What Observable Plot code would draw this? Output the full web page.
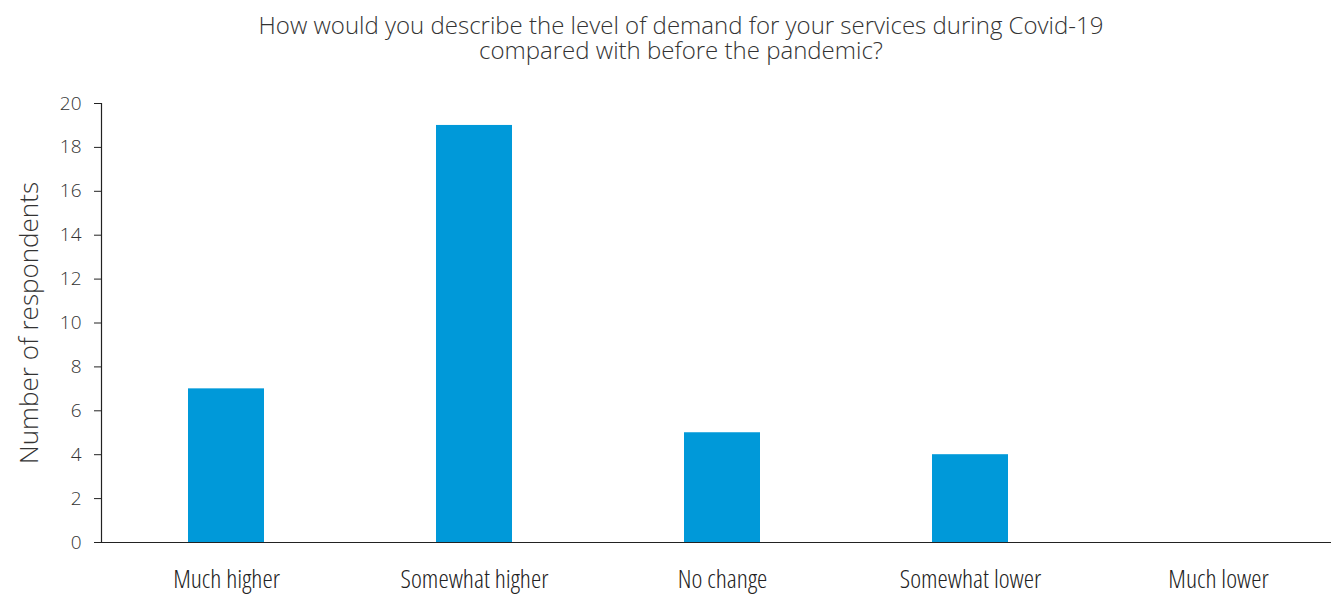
<!DOCTYPE html>
<html>
<head>
<meta charset="utf-8">
<script src="https://cdn.jsdelivr.net/npm/d3@7"></script>
<script src="https://cdn.jsdelivr.net/npm/@observablehq/plot@0.6"></script>
<style>
  body { margin: 0; background: #fff; }
  #wrap { width: 1331px; height: 598px; overflow: hidden; position: relative; }
  #title { height: 70px; font-family: "Open Sans", sans-serif; font-weight: 300; font-size: 24px; color: #333; text-align: center; line-height: 25px; padding-top: 12px; box-sizing: border-box; width: 1362px; white-space: nowrap; }
  #chart svg { max-width: none !important; display: block; }
</style>
</head>
<body>
<div id="wrap">
  <div id="title">How would you describe the level of demand for your services during Covid-19<br>compared with before the pandemic?</div>
  <div id="chart"></div>
</div>
<script>
const categories = ["Much higher", "Somewhat higher", "No change", "Somewhat lower", "Much lower"];
const respondents = [7, 19, 5, 4, 0];
const yTicks = [0, 2, 4, 6, 8, 10, 12, 14, 16, 18, 20];
const yLabel = "Number of respondents";

const data = categories.map((c, i) => ({category: c, value: respondents[i]}));

const chart = Plot.plot({
  width: 1343,
  height: 528,
  marginLeft: 101,
  marginRight: 0,
  marginTop: 33,
  marginBottom: 56,
  style: {fontFamily: "'Open Sans', sans-serif", fontWeight: 300, color: "#333", background: "#fff", overflow: "visible", maxWidth: "none"},
  x: {domain: categories, paddingInner: 0.694, paddingOuter: 0.347, axis: null},
  y: {domain: [0, 20], axis: null},
  marks: [
    Plot.barY(data, {x: "category", y: "value", fill: "#0099D9"}),
    Plot.ruleY([0], {stroke: "#222", strokeWidth: 1.2}),
    Plot.frame({anchor: "left", stroke: "#222", strokeWidth: 1.2}),
    Plot.axisY({ticks: yTicks, tickSize: 7, tickPadding: 13, fontSize: 19, label: null, stroke: "#222", fill: "#333"}),
    Plot.axisX({tickSize: 0, tickPadding: 27, fontSize: 26, label: null, fill: "#222"}),
    Plot.text([yLabel], {frameAnchor: "left", dx: -64, rotate: -90, textAnchor: "middle", lineAnchor: "bottom", text: d => d, fontSize: 26, fill: "#333"})
  ]
});
chart.querySelectorAll("g[aria-label='x-axis tick label'] text").forEach(t => t.style.fontStretch = "75%");
document.getElementById("chart").appendChild(chart);
</script>
</body>
</html>
